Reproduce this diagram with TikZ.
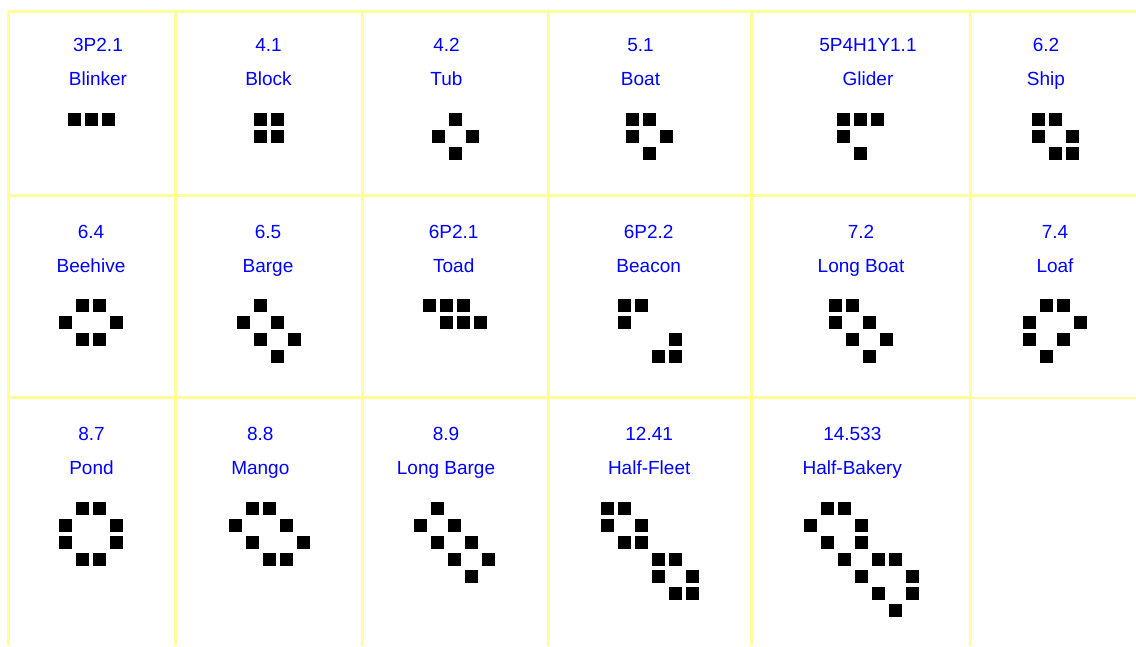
\documentclass[tikz,border=0pt]{standalone}
\usepackage{fontspec}
\setmainfont{Liberation Sans}
\definecolor{gridyellow}{RGB}{255,255,153}
\definecolor{lblblue}{RGB}{0,0,255}
\tikzset{
  gridline/.style={draw=gridyellow, line width=3pt},
  thingrid/.style={draw=gridyellow, line width=2pt},
  lbl/.style={anchor=base, text=lblblue, inner sep=0pt, font=\fontsize{19}{22}\selectfont},
  cell/.style={fill=black},
}
% #1 id, #2 code, #3 name, #4 centre x, #5 code baseline, #6 origin x, #7 origin y, #8 live cells
\newcommand\lifepat[8]{%
  \node[lbl] (#1code) at ({#4},{#5}) {#2};
  \node[lbl] (#1name) at ({#4},{#5+34}) {#3};
  \foreach \c/\r in {#8} \fill[cell] ({#6+17*\c},{#7+17*\r}) rectangle ++(12.8,12.8);
}
\begin{document}
\begin{tikzpicture}[x=1pt,y=-1pt]
\useasboundingbox (0,0) rectangle (1136,646);
\fill[white] (0,0) rectangle (1136,646);
% grid
\draw[gridline] (6.5,11) -- (1136,11);
\draw[gridline] (6.5,195) -- (1136,195);
\draw[gridline] (6.5,397.5) -- (971,397.5);
\draw[thingrid] (971,397.5) -- (1136,397.5);
\foreach \x in {8,175.5,362,548,751,970.5}
  \draw[gridline] (\x,9.5) -- (\x,646);
% row 1
\lifepat{a}{3P2.1}{Blinker}{98}{51.7}{67.7}{113.3}{0/0,1/0,2/0}
\lifepat{b}{4.1}{Block}{268.5}{51.7}{254}{113.3}{0/0,1/0,0/1,1/1}
\lifepat{c}{4.2}{Tub}{446.5}{51.7}{431.7}{113.3}{1/0,0/1,2/1,1/2}
\lifepat{d}{5.1}{Boat}{640.5}{51.7}{626}{113.3}{0/0,1/0,0/1,2/1,1/2}
\lifepat{e}{5P4H1Y1.1}{Glider}{868}{51.7}{837.3}{113.3}{0/0,1/0,2/0,0/1,1/2}
\lifepat{f}{6.2}{Ship}{1046}{51.7}{1032.3}{113.3}{0/0,1/0,0/1,2/1,1/2,2/2}
% row 2
\lifepat{g}{6.4}{Beehive}{91}{238}{59.3}{299.3}{1/0,2/0,0/1,3/1,1/2,2/2}
\lifepat{h}{6.5}{Barge}{268}{238}{236.7}{299.3}{1/0,0/1,2/1,1/2,3/2,2/3}
\lifepat{i}{6P2.1}{Toad}{453.7}{238}{423.3}{299.3}{0/0,1/0,2/0,1/1,2/1,3/1}
\lifepat{j}{6P2.2}{Beacon}{648.7}{238}{617.7}{299.3}{0/0,1/0,0/1,3/2,2/3,3/3}
\lifepat{k}{7.2}{Long Boat}{861}{238}{829.3}{299.3}{0/0,1/0,0/1,2/1,1/2,3/2,2/3}
\lifepat{l}{7.4}{Loaf}{1055}{238}{1023.3}{299.3}{1/0,2/0,0/1,3/1,0/2,2/2,1/3}
% row 3
\lifepat{m}{8.7}{Pond}{91.5}{440.7}{59.3}{502.3}{1/0,2/0,0/1,3/1,0/2,3/2,1/3,2/3}
\lifepat{n}{8.8}{Mango}{260.3}{440.7}{228.7}{502.3}{1/0,2/0,0/1,3/1,1/2,4/2,2/3,3/3}
\lifepat{o}{8.9}{Long Barge}{446}{440.7}{414.3}{502.3}{1/0,0/1,2/1,1/2,3/2,2/3,4/3,3/4}
\lifepat{p}{12.41}{Half-Fleet}{649.2}{440.7}{601}{502.3}{0/0,1/0,0/1,2/1,1/2,2/2,3/3,4/3,3/4,5/4,4/5,5/5}
\lifepat{q}{14.533}{Half-Bakery}{852.3}{440.7}{804}{502.3}{1/0,2/0,0/1,3/1,1/2,3/2,2/3,4/3,5/3,3/4,6/4,4/5,6/5,5/6}
\end{tikzpicture}
\end{document}
